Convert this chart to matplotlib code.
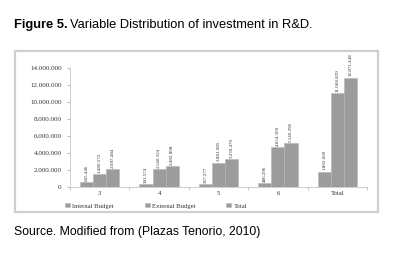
import numpy as np
import matplotlib
matplotlib.use('Agg')
import matplotlib.pyplot as plt
from matplotlib.patches import Rectangle

# data
categories = ['3', '4', '5', '6', 'Total']
internal = [605446, 341574, 367277, 486296, 1802609]
external = [1480572, 2140324, 2881985, 4654300, 11068839]
total = [2087484, 2483898, 3239470, 5140296, 12871448]
series_names = ['Internal Budget', 'External Budget', 'Total']
yticks = [0, 2000000, 4000000, 6000000, 8000000, 10000000, 12000000, 14000000]


def dots(v):
    return '{:,}'.format(v).replace(',', '.')


fig = plt.figure(figsize=(4.12, 2.58), dpi=100)
fig.patch.set_facecolor('white')

sans = ['Liberation Sans Narrow', 'Liberation Sans', 'DejaVu Sans']
t1 = fig.text(0.034, 0.89, 'Figure 5.', fontsize=9.3, fontweight='bold', family=sans)
fig.canvas.draw()
bb = t1.get_window_extent().transformed(fig.transFigure.inverted())
fig.text(bb.x1 + 0.006, 0.89, 'Variable Distribution of investment in R&D.',
         fontsize=9.3, family=sans)
fig.text(0.034, 0.09, 'Source. Modified from (Plazas Tenorio, 2010)', fontsize=8.8, family=sans)

# chart frame
fig.patches.append(Rectangle((15 / 412, 1 - 212 / 258), 363 / 412, 161 / 258,
                             transform=fig.transFigure, fill=False,
                             edgecolor='#cfcfcf', linewidth=1.6))

ax = fig.add_axes([70 / 412, 1 - 187 / 258, 297 / 412, 119 / 258])
x = np.arange(len(categories))
w = 0.22
serif = ['Liberation Serif', 'DejaVu Serif']
for i, vals in enumerate([internal, external, total]):
    pos = x + (i - 1) * w
    ax.bar(pos, vals, w, color='#9c9c9c', edgecolor='#b5b5b5', linewidth=0.4,
           label=series_names[i])
    for p, v in zip(pos, vals):
        ax.text(p, v + 150000, dots(v), rotation=90, ha='center', va='bottom',
                fontsize=3.6, family=serif, color='#333333')

ax.set_xlim(-0.5, len(categories) - 0.5)
ax.set_ylim(0, 14000000)
ax.set_yticks(yticks)
ax.set_yticklabels(['0'] + [dots(t) for t in yticks[1:]], fontsize=5,
                   family=serif, color='#333333')
ax.set_xticks(x)
ax.set_xticklabels(categories, fontsize=4.8, family=serif, color='#333333')
ax.set_xticks(np.arange(len(categories) + 1) - 0.5, minor=True)
ax.tick_params(axis='x', which='major', length=0, pad=3)
ax.tick_params(axis='x', which='minor', length=2, color='#bbbbbb')
ax.tick_params(axis='y', length=2, color='#bbbbbb', pad=4)
for s in ['top', 'right']:
    ax.spines[s].set_visible(False)
for s in ['left', 'bottom']:
    ax.spines[s].set_color('#c8c8c8')
    ax.spines[s].set_linewidth(0.6)

leg = ax.legend(loc='upper center', bbox_to_anchor=(0.29, -0.085), ncol=3,
                frameon=False, prop={'family': serif, 'size': 4.8},
                handlelength=0.8, handleheight=0.6, columnspacing=4.6,
                handletextpad=0.3)
for t in leg.get_texts():
    t.set_color('#333333')

plt.savefig('out.png', dpi=100, facecolor='white')
